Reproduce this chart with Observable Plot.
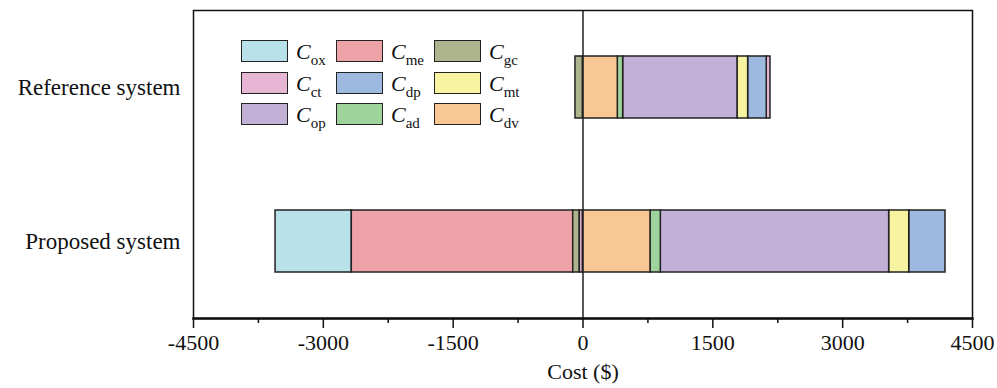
<!DOCTYPE html>
<html>
<head>
<meta charset="utf-8">
<script src="https://cdn.jsdelivr.net/npm/d3@7"></script>
<script src="https://cdn.jsdelivr.net/npm/@observablehq/plot@0.6"></script>
<style>
  html, body { margin: 0; padding: 0; background: #fff; }
  #wrap { position: relative; width: 997px; height: 388px; font-family: "Liberation Serif", "Times New Roman", serif; }
  .sw { position: absolute; width: 45px; height: 20px; border: 1.5px solid #222; }
  .lb { position: absolute; font-size: 22px; line-height: 1; color: #111; white-space: nowrap; }
  .lb i { font-style: italic; }
  .lb sub { font-size: 15px; vertical-align: -6px; }
</style>
</head>
<body>
<div id="wrap"></div>
<script>
const systems = ["Reference system", "Proposed system"];
const categories = ["ox", "me", "gc", "ct", "dp", "mt", "op", "ad", "dv"];
const referenceCosts = [0, 0, -87, 43, 215, 123, 1321, 62, 402];
const proposedCosts = [-881, -2558, -76, -37, 419, 232, 2638, 119, 780];
const colors = ["#b8e1ea", "#eda3a8", "#adb38d", "#e8b6d5", "#9db9e0", "#f7f3a0", "#c3b0d6", "#9fd39c", "#f9c794"];
const stackOrder = ["dv", "ad", "op", "mt", "dp", "ct", "gc", "me", "ox"];
const majorTicks = [-4500, -3000, -1500, 0, 1500, 3000, 4500];
const minorTicks = [-3750, -2250, -750, 750, 2250, 3750];
const xLabel = "Cost ($)";

const series = [referenceCosts, proposedCosts];
const data = [];
systems.forEach((s, i) => categories.forEach((c, j) => {
  const v = series[i][j];
  if (v !== 0) data.push({system: s, cat: c, cost: v});
}));

const chart = Plot.plot({
  width: 997, height: 388,
  marginLeft: 193, marginRight: 25, marginTop: 10, marginBottom: 70,
  style: {fontFamily: "'Liberation Serif', 'Times New Roman', serif", fontSize: "22px", color: "#111", background: "#fff", overflow: "visible"},
  x: {domain: [-4500, 4500]},
  y: {domain: systems, paddingInner: 0.6, paddingOuter: 0.3},
  color: {domain: categories, range: colors},
  marks: [
    Plot.barX(data, Plot.stackX({x: "cost", y: "system", fill: "cat", order: stackOrder, stroke: "#222", strokeWidth: 1.5})),
    Plot.ruleX([0], {stroke: "#222", strokeWidth: 1.5}),
    Plot.frame({stroke: "#111", strokeWidth: 1.5}),
    Plot.frame({anchor: "bottom", stroke: "#111", strokeWidth: 2.5}),
    Plot.axisX({ticks: minorTicks, tickSize: 5, text: null, label: null, strokeWidth: 1.5}),
    Plot.axisX({ticks: majorTicks, tickSize: 10, tickPadding: 6, tickFormat: d => String(d), label: null, strokeWidth: 1.5, fontSize: 22}),
    Plot.axisY({tickSize: 0, tickPadding: 13, label: null, fontSize: 23}),
    Plot.text([xLabel], {text: d => d, frameAnchor: "bottom", dy: 60, fontSize: 22})
  ]
});

const wrap = document.getElementById("wrap");
wrap.appendChild(chart);

// legend (3 x 3 grid inside the frame), built from the category arrays
const colX = [241, 336, 434];
const rowY = [40, 72, 103];
categories.forEach((c, k) => {
  const col = k % 3, row = Math.floor(k / 3);
  const sw = document.createElement("div");
  sw.className = "sw";
  sw.style.left = colX[col] + "px";
  sw.style.top = rowY[row] + "px";
  sw.style.background = colors[k];
  wrap.appendChild(sw);
  const lb = document.createElement("div");
  lb.className = "lb";
  lb.style.left = (colX[col] + 55) + "px";
  lb.style.top = (rowY[row] + 1) + "px";
  lb.innerHTML = "<i>C</i><sub>" + c + "</sub>";
  wrap.appendChild(lb);
});
</script>
</body>
</html>
